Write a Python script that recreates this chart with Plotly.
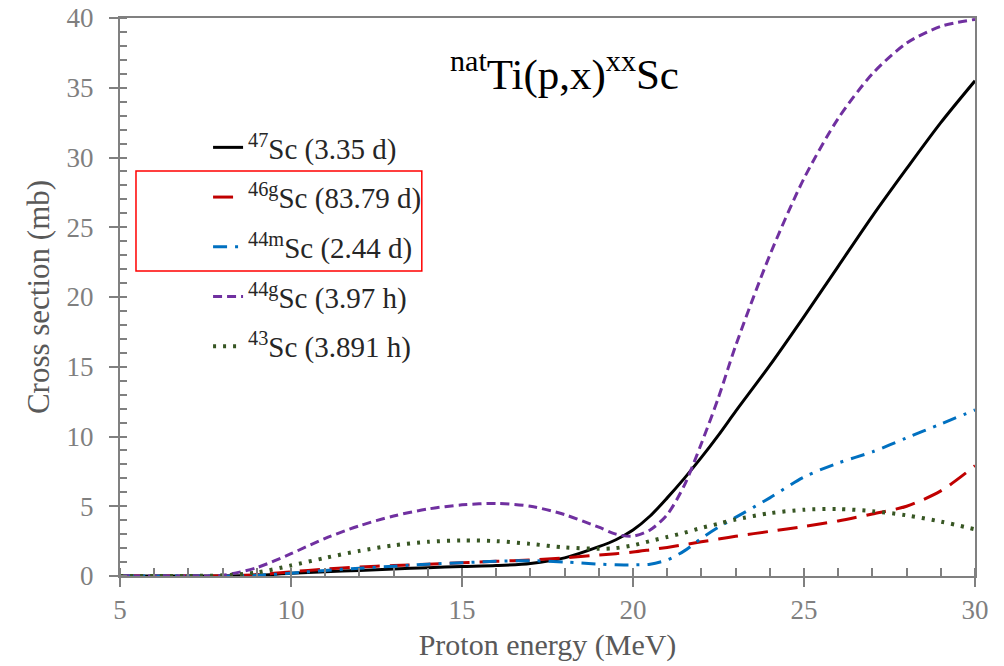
import plotly.graph_objects as go

energy = [5, 6, 7, 8, 9, 10, 11, 12, 13, 14, 15, 16, 17, 18, 19, 19.5, 20, 20.5,
          21, 21.5, 22, 22.5, 23, 24, 25, 26, 27, 28, 29, 30]

sc47 = [0, 0, 0, 0, 0.05, 0.2, 0.3, 0.4, 0.5, 0.6, 0.68, 0.75, 0.9, 1.3, 2.1, 2.6, 3.3, 4.3,
        5.6, 7.0, 8.5, 10.1, 11.8, 15.1, 18.6, 22.2, 25.8, 29.2, 32.5, 35.5]
sc46g = [0, 0, 0, 0.02, 0.1, 0.3, 0.5, 0.65, 0.75, 0.85, 0.95, 1.05, 1.15, 1.3, 1.5, 1.6, 1.72, 1.88,
         2.05, 2.25, 2.45, 2.65, 2.85, 3.2, 3.55, 3.95, 4.45, 5.0, 6.1, 7.9]
sc44m = [0, 0, 0, 0, 0.05, 0.2, 0.4, 0.55, 0.7, 0.85, 0.95, 1.05, 1.1, 1.0, 0.85, 0.8, 0.8, 0.85,
         1.15, 1.8, 2.7, 3.5, 4.2, 5.6, 7.1, 8.1, 8.9, 9.9, 10.9, 11.9]
sc44g = [0, 0, 0, 0.05, 0.6, 1.6, 2.7, 3.6, 4.3, 4.8, 5.1, 5.2, 5.0, 4.4, 3.5, 3.0, 2.85, 3.3,
         4.4, 6.5, 9.5, 12.8, 16.5, 23.0, 28.5, 32.8, 36.0, 38.2, 39.4, 39.9]
sc43 = [0, 0, 0, 0.05, 0.25, 0.75, 1.3, 1.8, 2.2, 2.45, 2.55, 2.5, 2.3, 2.05, 1.95, 2.0, 2.2, 2.5,
        2.8, 3.1, 3.45, 3.75, 4.05, 4.5, 4.75, 4.8, 4.65, 4.35, 3.9, 3.35]

names = ["<sup>47</sup>Sc (3.35 d)", "<sup>46g</sup>Sc (83.79 d)", "<sup>44m</sup>Sc (2.44 d)",
         "<sup>44g</sup>Sc (3.97 h)", "<sup>43</sup>Sc (3.891 h)"]
series = [sc47, sc46g, sc44m, sc44g, sc43]
colors = ["#000000", "#C00000", "#0070C0", "#7030A0", "#375623"]
dashes = ["solid", "20px,10px", "14px,8px,3px,8px", "9px,5px", "3px,7px"]
widths = [3, 3, 3, 3, 4]

x_ticks = [5, 10, 15, 20, 25, 30]
y_ticks = [0, 5, 10, 15, 20, 25, 30, 35, 40]

FONT = "Liberation Serif"
AX = "#808080"

fig = go.Figure()
for nm, ys, c, d, w in zip(names, series, colors, dashes, widths):
    fig.add_trace(go.Scatter(x=energy, y=ys, mode="lines", name=nm, legendgroup=nm,
                             line=dict(color=c, dash=d, width=w, shape="spline", smoothing=0.8)))

fig.update_layout(
    width=996, height=658,
    margin=dict(l=112, r=29, t=10, b=90, autoexpand=False),
    paper_bgcolor="white", plot_bgcolor="white",
    font=dict(family=FONT, color="#595959", size=26),
    showlegend=True,
    legend=dict(x=0.103, y=0.8136, xanchor="left", yanchor="top",
                font=dict(family=FONT, size=29, color="#262626"),
                bgcolor="rgba(0,0,0,0)", tracegroupgap=9),
    xaxis=dict(range=[5, 30], tickvals=x_ticks, ticks="outside", ticklen=9, tickwidth=2,
               tickcolor=AX, showline=True, linecolor=AX, linewidth=2, mirror=True,
               showgrid=False, zeroline=False, automargin=False, ticklabeloverflow="allow",
               tickfont=dict(family=FONT, size=27, color="#7f7f7f"),
               minor=dict(dtick=1, ticks="inside", ticklen=8, tickwidth=1.5, tickcolor=AX),
               title=dict(text="Proton energy (MeV)", font=dict(family=FONT, size=30, color="#595959"),
                          standoff=10)),
    yaxis=dict(range=[0, 40], tickvals=y_ticks, ticks="outside", ticklen=9, tickwidth=2,
               tickcolor=AX, showline=True, linecolor=AX, linewidth=2, mirror=True,
               showgrid=False, zeroline=False, automargin=False, ticklabelstandoff=10,
               ticklabeloverflow="allow",
               tickfont=dict(family=FONT, size=27, color="#7f7f7f"),
               minor=dict(dtick=1, ticks="inside", ticklen=7, tickwidth=1.5, tickcolor=AX),
               title=dict(text="Cross section (mb)", font=dict(family=FONT, size=31, color="#595959"),
                          standoff=8)),
    xaxis2=dict(range=[5, 30], overlaying="x", anchor="y", tickvals=x_ticks, ticks="inside",
                ticklen=9, tickwidth=2, tickcolor=AX, showticklabels=False, showline=False,
                showgrid=False, zeroline=False, automargin=False),
    yaxis2=dict(range=[0, 40], overlaying="y", anchor="x", tickvals=y_ticks, ticks="inside",
                ticklen=9, tickwidth=2, tickcolor=AX, showticklabels=False, showline=False,
                showgrid=False, zeroline=False, automargin=False),
)

fig.add_annotation(text="<sup>nat</sup>Ti(p,x)<sup>xx</sup>Sc", xref="paper", yref="paper",
                   x=0.52, y=0.905, showarrow=False, xanchor="center", yanchor="middle",
                   font=dict(family=FONT, size=43, color="#000000"))

fig.add_shape(type="rect", xref="paper", yref="paper", x0=0.0187, x1=0.353, y0=0.5466, y1=0.7258,
              line=dict(color="#FF0000", width=1.5), fillcolor="rgba(0,0,0,0)")

fig.write_html("out.html")
